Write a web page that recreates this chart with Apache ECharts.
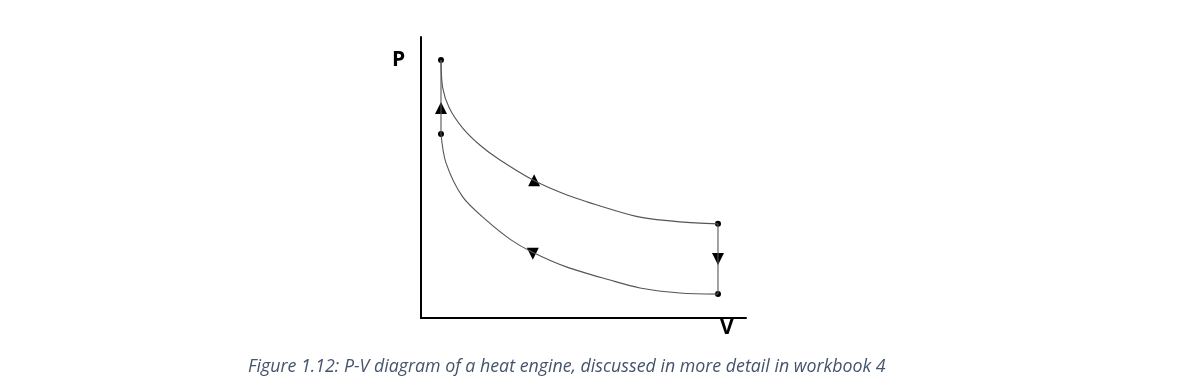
<!DOCTYPE html>
<html><head><meta charset="utf-8">
<script src="https://cdn.jsdelivr.net/npm/echarts@6/dist/echarts.min.js"></script>
<style>html,body{margin:0;padding:0;background:#fff}#c{width:1184px;height:385px}</style>
</head><body><div id="c"></div>
<script>
// Upper curve (expansion), [V, P]
const upperCurve = [[0.615,9.18],[0.668,8.19],[0.871,7.47],[1.283,6.76],[1.846,6.12],[2.431,5.62],[3.446,4.91],[4.492,4.38],[5.815,3.88],[6.738,3.59],[7.969,3.42],[9.138,3.35]];
// Lower curve (compression), [V, P]
const lowerCurve = [[0.615,6.55],[0.769,5.52],[1.283,4.31],[2.0,3.49],[2.769,2.78],[3.415,2.35],[4.492,1.81],[5.815,1.35],[6.738,1.07],[7.969,0.89],[9.138,0.85]];
// Vertical segments
const leftSegment = [[0.615,6.55],[0.615,9.18]];
const rightSegment = [[9.138,3.35],[9.138,0.85]];
// State points
const corners = [[0.615,9.18],[0.615,6.55],[9.138,3.35],[9.138,0.85]];
// Direction arrows
const upArrows = [[0.615,7.47],[3.48,4.90]];
const downArrows = [[9.138,2.10],[3.44,2.29]];
const axisNames = {y:'P', x:'V'};
const caption = 'Figure 1.12: P-V diagram of a heat engine, discussed in more detail in workbook 4';

const chart = echarts.init(document.getElementById('c'));
const lineStyle = {color:'#555', width:1.1};
chart.setOption({
  animation:false,
  grid:{left:421, top:37, width:325, height:281},
  xAxis:{type:'value', min:0, max:10, axisLine:{show:true, lineStyle:{color:'#000', width:2}}, axisTick:{show:false}, axisLabel:{show:false}, splitLine:{show:false}},
  yAxis:{type:'value', min:0, max:10, axisLine:{show:true, lineStyle:{color:'#000', width:2}}, axisTick:{show:false}, axisLabel:{show:false}, splitLine:{show:false}},
  graphic:[
    {type:'text', left:392, top:50, style:{text:axisNames.y, font:'bold 21px "Open Sans", Arial, sans-serif', fill:'#000'}},
    {type:'text', left:720, top:318, style:{text:axisNames.x, font:'bold 21px "Open Sans", Arial, sans-serif', fill:'#000'}},
    {type:'text', left:248, top:358, style:{text:caption, font:'italic 17.8px "Open Sans", sans-serif', fill:'#44546A'}}
  ],
  series:[
    {type:'line', data:upperCurve, smooth:0.3, symbol:'none', lineStyle:lineStyle},
    {type:'line', data:lowerCurve, smooth:0.3, symbol:'none', lineStyle:lineStyle},
    {type:'line', data:leftSegment, symbol:'none', lineStyle:lineStyle},
    {type:'line', data:rightSegment, symbol:'none', lineStyle:lineStyle},
    {type:'scatter', data:corners, symbol:'circle', symbolSize:6, itemStyle:{color:'#000', opacity:1}},
    {type:'scatter', data:upArrows, symbol:'triangle', symbolSize:[12,12], itemStyle:{color:'#000', opacity:1}},
    {type:'scatter', data:downArrows, symbol:'triangle', symbolRotate:180, symbolSize:[12,12], itemStyle:{color:'#000', opacity:1}}
  ]
});
</script></body></html>
